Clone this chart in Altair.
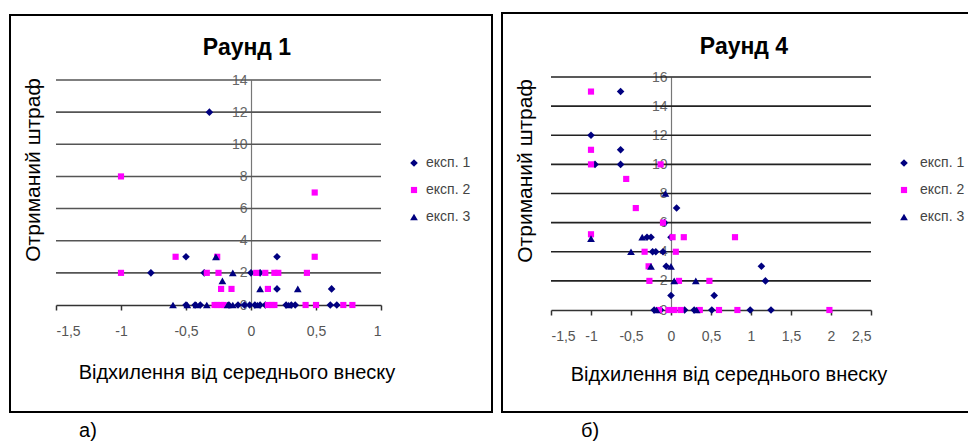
import altair as alt
import pandas as pd

FONT = "Liberation Sans"
W, H = 968, 441

SERIES = ["експ. 1", "експ. 2", "експ. 3"]
COLORS = ["#000080", "#ff00ff", "#000080"]
SHAPES = ["diamond", "square", "triangle-up"]
SIZES = [58, 38, 60]

# ---- Раунд 1: deviation from mean contribution vs. received penalty ----
r1_e1_x = [-0.32, -0.50, -0.77, -0.36, 0.00, 0.07, 0.20, 0.20, 0.62,
           -0.50, -0.43, -0.39, -0.17, -0.10, -0.05, -0.01, 0.03, 0.07,
           0.11, 0.27, 0.31, 0.34, 0.61, 0.66]
r1_e1_y = [12, 3, 2, 2, 2, 2, 3, 1, 1,
           0, 0, 0, 0, 0, 0, 0, 0, 0,
           0, 0, 0, 0, 0, 0]
r1_e2_x = [-1.00, 0.49, -1.00, -0.58, 0.49, -0.26, -0.34, -0.25, 0.04,
           0.11, 0.18, 0.21, 0.43, -0.23, -0.15, 0.13,
           -0.28, -0.26, -0.23, -0.21, 0.13, 0.16, 0.18, 0.42, 0.50,
           0.71, 0.78]
r1_e2_y = [8, 7, 2, 3, 3, 3, 2, 2, 2,
           2, 2, 2, 2, 1, 1, 1,
           0, 0, 0, 0, 0, 0, 0, 0, 0,
           0, 0]
r1_e3_x = [-0.27, -0.14, -0.22, 0.07, 0.36,
           -0.60, -0.49, -0.42, -0.34, -0.18, -0.14, 0.05, 0.29]
r1_e3_y = [3, 2, 1.5, 1, 1,
           0, 0, 0, 0, 0, 0, 0, 0]

# ---- Раунд 4 ----
r4_e1_x = [-0.63, -1.00, -0.63, -0.95, -0.63, 0.07, -0.08, 0.00, -0.30,
           -0.25, -0.23, -0.19, -0.10, -0.06, 1.13, 1.18, 0.00, 0.54,
           -0.21, -0.13, 0.17, 0.29, 0.51, 0.99, 1.25]
r4_e1_y = [15, 12, 11, 10, 10, 7, 6, 5, 5,
           5, 4, 4, 4, 3, 3, 2, 1, 1,
           0, 0, 0, 0, 0, 0, 0]
r4_e2_x = [-1.00, -1.00, -1.00, -0.13, -0.56, -0.44, -0.10, 0.02, 0.16,
           0.80, -1.00, -0.33, 0.06, -0.28, -0.27, 0.10, 0.48,
           -0.15, -0.03, 0.04, 0.12, 0.36, 0.60, 0.83, 1.98]
r4_e2_y = [15, 11, 10, 10, 9, 7, 6, 5, 5,
           5, 5.2, 4, 4, 3, 2, 2, 2,
           0, 0, 0, 0, 0, 0, 0, 0]
r4_e3_x = [-1.00, -0.07, -0.36, -0.50, -0.25, 0.00, 0.04, 0.31, -0.18, 0.32]
r4_e3_y = [4.9, 8, 5, 4, 3, 3, 2, 2, 0, 0]

r1_x_ticks = [-1.5, -1, -0.5, 0, 0.5, 1]
r1_y_ticks = [0, 2, 4, 6, 8, 10, 12, 14]
r4_x_ticks = [-1.5, -1, -0.5, 0, 0.5, 1, 1.5, 2, 2.5]
r4_y_ticks = [0, 2, 4, 6, 8, 10, 12, 14, 16]

TITLES = ["Раунд 1", "Раунд 4"]
X_TITLE = "Відхилення від середнього внеску"
Y_TITLE = "Отриманий штраф"
PANEL_TAGS = ["а)", "б)"]


def frame(groups):
    rows = []
    for name, xs, ys in groups:
        for x, y in zip(xs, ys):
            rows.append({"x": x, "y": y, "series": name})
    return pd.DataFrame(rows)


def text_layer(txt, x, y, size, weight="normal", angle=0, color="#000"):
    return alt.Chart(pd.DataFrame({"t": [txt]})).mark_text(
        font=FONT, fontSize=size, fontWeight=weight, angle=angle,
        align="center", baseline="alphabetic", color=color,
    ).encode(text="t:N", x=alt.value(x), y=alt.value(y))


def legend(xy, offset):
    return alt.Legend(orient="none", legendX=xy[0], legendY=xy[1], title=None,
                      labelFont=FONT, labelFontSize=14, labelColor="#444",
                      rowPadding=13, labelOffset=offset, symbolStrokeWidth=0)


def panel(df, xdom, xrng, ydom, yrng, xticks, yticks, grid_color,
          box, title_pos, xtitle_pos, ytitle_pos, tag_pos, title, tag,
          legend_xy, legend_offset):
    xs = alt.Scale(domain=xdom, range=xrng, nice=False, zero=False)
    ys = alt.Scale(domain=ydom, range=yrng, nice=False, zero=False)
    zero_px = xrng[0] + (xrng[1] - xrng[0]) * (0 - xdom[0]) / (xdom[1] - xdom[0])

    frame_box = alt.Chart(pd.DataFrame({"k": [0]})).mark_rect(
        fillOpacity=0, stroke="#000", strokeWidth=2
    ).encode(x=alt.value(box[0]), x2=alt.value(box[1]),
             y=alt.value(box[2]), y2=alt.value(box[3]))

    grid = alt.Chart(pd.DataFrame({"g": [v for v in yticks if v > 0]})).mark_rule(
        color=grid_color, strokeWidth=1.6
    ).encode(
        y=alt.Y("g:Q", scale=ys, axis=None),
        x=alt.value(xrng[0]), x2=alt.value(xrng[1]),
    )

    lg = legend(legend_xy, legend_offset)
    pts = alt.Chart(df).mark_point(filled=True, opacity=1, strokeWidth=0).encode(
        x=alt.X("x:Q", scale=xs, axis=alt.Axis(
            orient="bottom", offset=-(H - yrng[0]), values=xticks, title=None,
            grid=False, domainColor="#333", domainWidth=1.5, tickColor="#333",
            tickWidth=1.5, tickSize=5, labelPadding=14, labelFont=FONT,
            labelFontSize=14, labelColor="#555",
            labelExpr="replace(toString(datum.value), '.', ',')")),
        y=alt.Y("y:Q", scale=ys, axis=alt.Axis(
            orient="left", offset=-zero_px, values=yticks, title=None,
            grid=False, ticks=False, domainColor="#777", domainWidth=1.2,
            labelPadding=4, labelFont=FONT, labelFontSize=14, labelColor="#666")),
        color=alt.Color("series:N", scale=alt.Scale(domain=SERIES, range=COLORS), legend=lg),
        shape=alt.Shape("series:N", scale=alt.Scale(domain=SERIES, range=SHAPES), legend=lg),
        size=alt.Size("series:N", scale=alt.Scale(type="ordinal", domain=SERIES, range=SIZES),
                      legend=lg),
    )

    texts = [
        text_layer(title, title_pos[0], title_pos[1], 23, weight="bold"),
        text_layer(X_TITLE, xtitle_pos[0], xtitle_pos[1], 20),
        text_layer(Y_TITLE, ytitle_pos[0], ytitle_pos[1], 21, angle=270),
        text_layer(tag, tag_pos[0], tag_pos[1], 20),
    ]
    return [frame_box, grid, pts] + texts


df1 = frame([(SERIES[0], r1_e1_x, r1_e1_y), (SERIES[1], r1_e2_x, r1_e2_y),
             (SERIES[2], r1_e3_x, r1_e3_y)])
df4 = frame([(SERIES[0], r4_e1_x, r4_e1_y), (SERIES[1], r4_e2_x, r4_e2_y),
             (SERIES[2], r4_e3_x, r4_e3_y)])

left = panel(df1, [-1.5, 1], [56, 381], [0, 14], [305, 80], r1_x_ticks, r1_y_ticks,
             "#555", (10, 492, 15, 412), (247, 55), (237, 379), (40, 170), (88, 437),
             TITLES[0], PANEL_TAGS[0], (407, 156), 5)
right = panel(df4, [-1.5, 2.5], [551, 871], [0, 16], [310, 77], r4_x_ticks, r4_y_ticks,
              "#222", (502, 975, 13, 412), (744, 54), (729, 381), (532, 171), (590, 437),
              TITLES[1], PANEL_TAGS[1], (897, 156), 9)

chart = alt.layer(*(left + right)).resolve_scale(
    x="independent", y="independent", color="independent", shape="independent",
    size="independent",
).resolve_axis(x="independent", y="independent").properties(
    width=W, height=H, padding=0, autosize=alt.AutoSizeParams(type="none"),
    background="white",
).configure_view(strokeWidth=0)

chart.save("out.html", embed_options={"renderer": "svg", "actions": False})
